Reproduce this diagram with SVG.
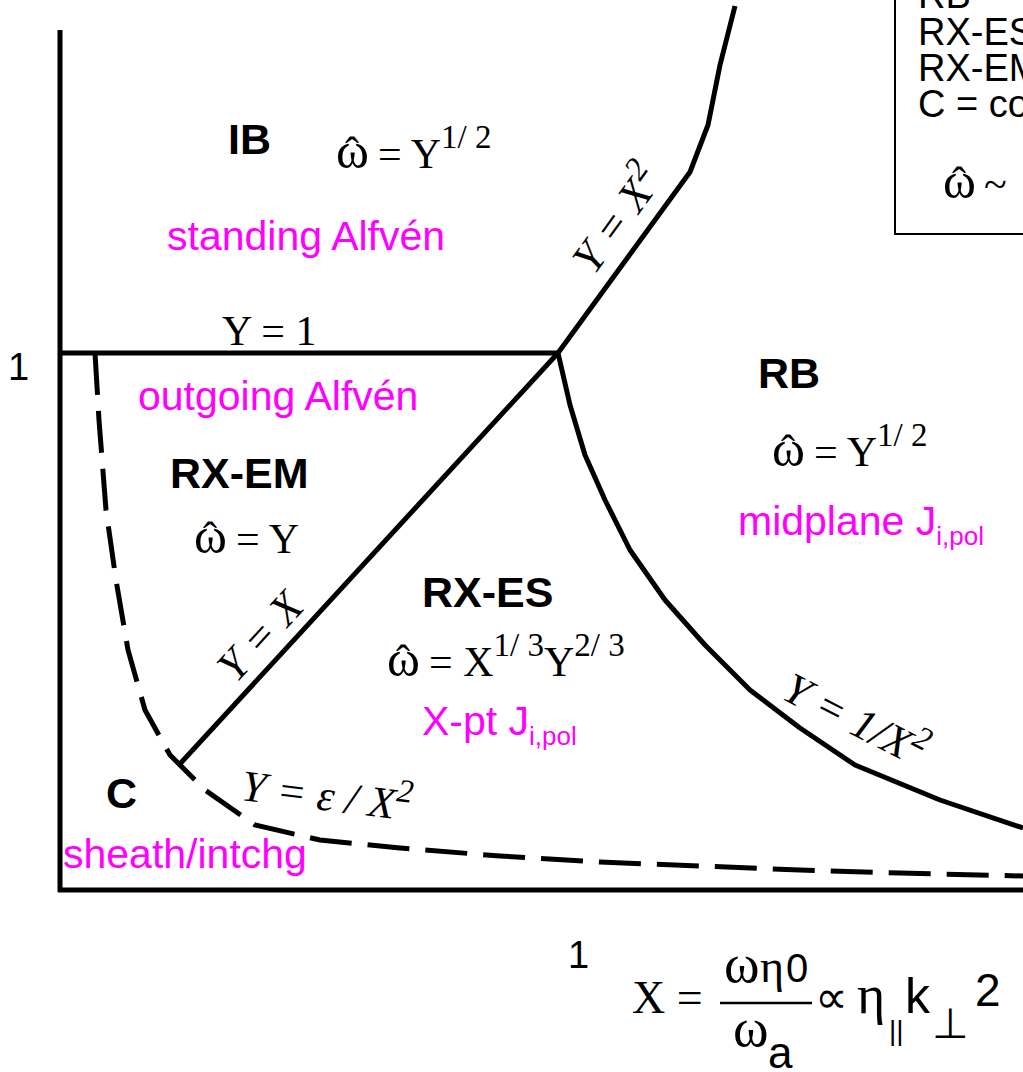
<svg xmlns="http://www.w3.org/2000/svg" width="1023" height="1072" viewBox="0 0 1023 1072">
<style>
.ln{fill:none;stroke:#000;stroke-width:5;stroke-linejoin:round;stroke-linecap:butt}
.ax{fill:none;stroke:#000;stroke-width:5}
.ds{fill:none;stroke:#000;stroke-width:5;stroke-dasharray:42 16}
.b{font-family:"Liberation Sans",Arial,sans-serif;font-weight:bold;font-size:43px;fill:#000}
.s{font-family:"Liberation Sans",Arial,sans-serif;font-size:38px;fill:#000}
.m{font-family:"Liberation Sans",Arial,sans-serif;font-size:41px;fill:#ff00ff}
.t{font-family:"Liberation Serif","Times New Roman",serif;font-size:42px;fill:#000}
.w{font-family:"Liberation Serif","Times New Roman",serif;font-size:50px;fill:#000}
.h{font-family:"Liberation Serif","Times New Roman",serif;font-size:42px;fill:#000;text-anchor:middle}
.ti{font-family:"Liberation Serif","Times New Roman",serif;font-style:italic;font-size:44px;fill:#000}
.sup{font-size:33px}
.sub{font-size:26px}
</style>
<rect width="1023" height="1072" fill="#fff"/>
<g id="legend">
<rect x="895" y="-5" width="140" height="239" fill="#fff" stroke="#000" stroke-width="2"/>
<text class="s" x="918" y="8">RB</text>
<text class="s" x="918" y="45">RX-ES</text>
<text class="s" x="918" y="81">RX-EM</text>
<text class="s" x="918" y="117">C = co</text>
<text class="w" x="943" y="198">ω</text><text class="h" x="959" y="196">ˆ</text>
<text class="t" x="984" y="198">~</text>
</g>
<g id="axes">
<line class="ax" x1="60" y1="30" x2="60" y2="892"/>
<line class="ax" x1="58" y1="890" x2="1023" y2="890"/>
<text class="s" x="8" y="380">1</text>
<text class="s" x="568" y="968">1</text>
</g>
<g id="connectors">
<line class="ln" x1="60" y1="353" x2="558" y2="353"/>
<line class="ln" x1="558" y1="353" x2="178" y2="766"/>
<polyline class="ln" points="558,353 620,268 690,172 708,125 720,65 735,6"/>
<polyline class="ln" points="558,353 570,405 585,455 605,500 630,550 665,600 705,645 750,690 800,728 855,765 940,800 1023,828"/>
<polyline class="ds" points="95,353 99,420 106,510 116,580 128,650 145,710 170,755 205,790 255,825 320,840 400,848 500,856 600,862 700,866 800,870 900,873 1023,876"/>
</g>
<g id="IB">
<text class="b" x="228" y="154">IB</text>
<text class="w" x="336" y="168">ω</text><text class="h" x="352" y="166">ˆ</text>
<text class="t" x="378" y="168">= Y<tspan class="sup" dy="-20">1/ 2</tspan></text>
<text class="m" x="167" y="250">standing Alfvén</text>
<text class="t" x="222" y="345">Y = 1</text>
</g>
<g id="RXEM">
<text class="m" x="138" y="410">outgoing Alfvén</text>
<text class="b" x="170" y="488">RX-EM</text>
<text class="w" x="194" y="553">ω</text><text class="h" x="210" y="551">ˆ</text>
<text class="t" x="236" y="553">= Y</text>
<text class="ti" transform="translate(236,684) rotate(-47.4)">Y = X</text>
</g>
<g id="RXES">
<text class="b" x="422" y="607">RX-ES</text>
<text class="w" x="387" y="676">ω</text><text class="h" x="403" y="674">ˆ</text>
<text class="t" x="429" y="676">= X<tspan class="sup" dy="-20">1/ 3</tspan><tspan dy="20">Y</tspan><tspan class="sup" dy="-20">2/ 3</tspan></text>
<text class="m" x="422" y="735">X-pt J<tspan class="sub" dy="10">i,pol</tspan></text>
</g>
<g id="RB">
<text class="b" x="758" y="388">RB</text>
<text class="w" x="772" y="466">ω</text><text class="h" x="788" y="464">ˆ</text>
<text class="t" x="814" y="466">= Y<tspan class="sup" dy="-20">1/ 2</tspan></text>
<text class="m" x="738" y="535">midplane J<tspan class="sub" dy="10">i,pol</tspan></text>
<text class="ti" transform="translate(594,276) rotate(-54)">Y = X<tspan class="sup" dy="-18">2</tspan></text>
<text class="ti" transform="translate(780,698) rotate(27)">Y = 1/X<tspan class="sup" dy="-18">2</tspan></text>
</g>
<g id="C">
<text class="b" x="106" y="808">C</text>
<text class="m" x="63" y="868">sheath/intchg</text>
<text class="ti" transform="translate(240,800) rotate(7)">Y = ε / X<tspan class="sup" dy="-18">2</tspan></text>
</g>
<g id="xlabel">
<text class="t" x="632" y="1013" style="font-size:46px">X =</text>
<line x1="720" y1="1003" x2="812" y2="1003" stroke="#000" stroke-width="2.5"/>
<text class="t" x="724" y="982" style="font-size:54px">ω</text>
<text class="t" x="760" y="982" style="font-size:46px">η</text>
<text class="s" x="786" y="982" style="font-size:40px">0</text>
<text class="t" x="733" y="1046" style="font-size:54px">ω</text>
<text class="s" x="768" y="1068" style="font-size:44px">a</text>
<text class="t" x="815" y="1013" style="font-size:46px">∝</text>
<text class="t" x="857" y="1013" style="font-size:54px">η</text>
<text class="s" x="889" y="1040" style="font-size:28px">||</text>
<text class="s" x="905" y="1013" style="font-size:50px">k</text>
<text class="s" x="932" y="1038" style="font-size:42px">⊥</text>
<text class="s" x="975" y="1006" style="font-size:46px">2</text>
</g>
</svg>
